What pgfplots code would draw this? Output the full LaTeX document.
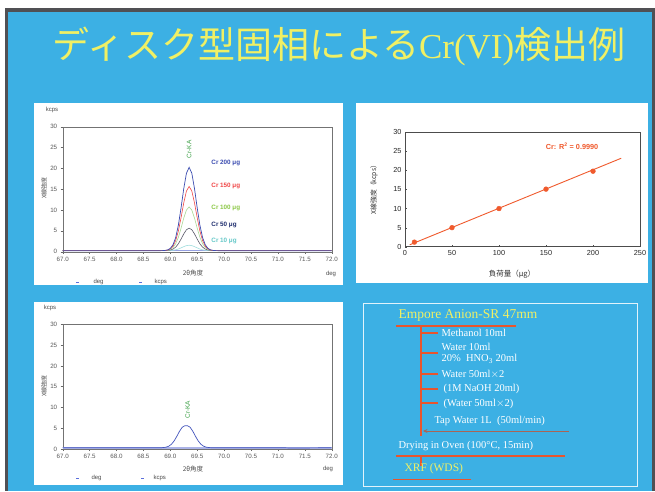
\documentclass[border=0pt]{standalone}
\usepackage{fontspec}
\setmainfont{Liberation Serif}
\setsansfont{Liberation Sans}
\newfontfamily\cjk{Noto Sans CJK JP}
\usepackage{pgfplots}
\pgfplotsset{compat=1.18}
\usepackage{pgfplotstable}
\usetikzlibrary{arrows.meta}

\definecolor{slideblue}{RGB}{60,176,228}
\definecolor{titleyellow}{RGB}{240,240,100}
\definecolor{frameg}{RGB}{80,80,84}
\definecolor{c200}{RGB}{58,75,176}
\definecolor{c150}{RGB}{240,70,70}
\definecolor{c100}{RGB}{170,216,150}
\definecolor{c50}{RGB}{90,90,105}
\definecolor{c10}{RGB}{160,222,222}
\definecolor{l100}{RGB}{140,200,70}
\definecolor{l50}{RGB}{30,45,110}
\definecolor{l10}{RGB}{100,200,200}
\definecolor{base}{RGB}{150,160,225}
\definecolor{kagreen}{RGB}{60,160,70}
\definecolor{fitred}{RGB}{240,90,45}
\definecolor{flowred}{RGB}{232,85,45}
\definecolor{arrowc}{RGB}{170,100,85}
\definecolor{legblue}{RGB}{90,110,220}

\pgfplotstableread{
x      a      b      c      d     e
67.00  0.25   0.25   0.25   0.25  0.25
68.80  0.25   0.25   0.25   0.25  0.25
68.85  0.26   0.26   0.26   0.25  0.25
68.90  0.30   0.29   0.28   0.26  0.25
68.95  0.43   0.39   0.34   0.30  0.26
69.00  0.79   0.67   0.53   0.40  0.29
69.05  1.65   1.33   0.99   0.63  0.34
69.10  3.39   2.67   1.90   1.10  0.45
69.15  6.37   4.96   3.46   1.90  0.65
69.20  10.53  8.17   5.65   3.03  0.92
69.25  15.13  11.71  8.06   4.27  1.22
69.30  18.83  14.56  10.00  5.27  1.46
69.35  20.25  15.65  10.75  5.65  1.55
69.40  18.83  14.56  10.00  5.27  1.46
69.45  15.13  11.71  8.06   4.27  1.22
69.50  10.53  8.17   5.65   3.03  0.92
69.55  6.37   4.96   3.46   1.90  0.65
69.60  3.39   2.67   1.90   1.10  0.45
69.65  1.65   1.33   0.99   0.63  0.34
69.70  0.79   0.67   0.53   0.40  0.29
69.75  0.43   0.39   0.34   0.30  0.26
69.80  0.30   0.29   0.28   0.26  0.25
69.85  0.26   0.26   0.26   0.25  0.25
69.90  0.25   0.25   0.25   0.25  0.25
72.00  0.25   0.25   0.25   0.25  0.25
}\spectraA

\pgfplotstableread{
x      y
67.00  0.30
68.77  0.30
68.82  0.31
68.87  0.35
68.92  0.44
68.97  0.67
69.02  1.13
69.07  1.92
69.12  3.02
69.17  4.24
69.22  5.22
69.27  5.60
69.32  5.60
69.37  5.22
69.42  4.24
69.47  3.02
69.52  1.92
69.57  1.13
69.62  0.67
69.67  0.44
69.72  0.35
69.77  0.31
69.82  0.30
71.10  0.30
71.30  0.22
71.50  0.26
72.00  0.30
}\spectraB

\pgfplotstableread{
x    y
10   1.2
50   5.0
100  10.0
150  15.1
200  19.8
}\calib

\pgfplotsset{
  spec/.style={
    scale only axis, width=269pt, height=125pt,
    xmin=67, xmax=72, ymin=0, ymax=30,
    xtick={67,67.5,68,68.5,69,69.5,70,70.5,71,71.5,72},
    ytick={0,5,10,15,20,25,30},
    /pgf/number format/assume math mode=true,
    tick label style={font=\fontsize{6.2}{7}\selectfont\sffamily, text=black!65},
    xticklabel style={/pgf/number format/.cd, fixed, fixed zerofill, precision=1},
    axis line style={black!55, line width=0.4pt},
    tick style={black!60, line width=0.4pt},
    tick align=outside, xtick pos=bottom, ytick pos=left,
    major tick length=2pt,
  }
}

\begin{document}
\begin{tikzpicture}[x=1pt,y=1pt]
% page background
\fill[white] (0,0) rectangle (655,-491);
\fill[frameg] (5,-8) rectangle (655,-491);
\fill[slideblue] (8,-12) rectangle (652,-491);

% title
\node[text=titleyellow, anchor=center] at (339,-46)
  {\fontsize{37}{38}\selectfont\cjk ディスク型固相による{\rmfamily\fontsize{35}{36}\selectfont Cr(VI)}検出例};

% white panels
\fill[white] (34,-103) rectangle (343,-285);
\fill[white] (356,-103) rectangle (648,-283);
\fill[white] (34,-302) rectangle (343,-485);

% ---------- panel 1 ----------
\begin{axis}[spec, at={(62.7pt,-251.7pt)}, anchor=south west]
  \addplot[base, line width=1pt] coordinates {(67,0.25) (72,0.25)};
  \addplot[c10, line width=0.6pt] table[x=x, y=e] {\spectraA};
  \addplot[c50, line width=0.6pt] table[x=x, y=d] {\spectraA};
  \addplot[c100, line width=0.6pt] table[x=x, y=c] {\spectraA};
  \addplot[c150, line width=0.6pt] table[x=x, y=b] {\spectraA};
  \addplot[c200, line width=0.7pt] table[x=x, y=a] {\spectraA};
  \node[rotate=90, text=kagreen, font=\fontsize{6.5}{7}\selectfont\sffamily] at (axis cs:69.35,24.6) {Cr-KA};
  \begin{scope}[font=\fontsize{6.3}{7}\selectfont\sffamily\bfseries]
  \node[anchor=west, text=c200] at (axis cs:69.7,21.2) {Cr 200 μg};
  \node[anchor=west, text=c150] at (axis cs:69.7,15.8) {Cr 150 μg};
  \node[anchor=west, text=l100] at (axis cs:69.7,10.6) {Cr 100 μg};
  \node[anchor=west, text=l50] at (axis cs:69.7,6.3) {Cr 50 μg};
  \node[anchor=west, text=l10] at (axis cs:69.7,2.6) {Cr 10 μg};
  \end{scope}
\end{axis}
\begin{scope}[text=black!70]
\node[font=\fontsize{6}{7}\selectfont\sffamily] at (52,-110) {kcps};
\node[rotate=90, font=\fontsize{6}{7}\selectfont\cjk] at (44,-188) {X線強度};
\node[font=\fontsize{6.5}{7}\selectfont\cjk] at (193,-273) {2θ角度};
\node[font=\fontsize{6}{7}\selectfont\sffamily] at (331,-274) {deg};
\draw[legblue, line width=0.8pt] (76,-282) -- (79,-282);
\node[font=\fontsize{6}{7}\selectfont\sffamily, anchor=west] at (90,-282) {deg};
\draw[legblue, line width=0.8pt] (139,-282) -- (142,-282);
\node[font=\fontsize{6}{7}\selectfont\sffamily, anchor=west] at (151,-282) {kcps};
\end{scope}

% ---------- panel 3 ----------
\begin{axis}[spec, height=124.7pt, at={(62.7pt,-449pt)}, anchor=south west]
  \addplot[base!80, line width=1.2pt] coordinates {(67,0.25) (72,0.25)};
  \addplot[c200!70!legblue, line width=0.7pt] table[x=x, y=y] {\spectraB};
  \node[rotate=90, text=kagreen, font=\fontsize{6.5}{7}\selectfont\sffamily] at (axis cs:69.32,9.5) {Cr-KA};
\end{axis}
\begin{scope}[text=black!70]
\node[font=\fontsize{6}{7}\selectfont\sffamily] at (50,-308) {kcps};
\node[rotate=90, font=\fontsize{6}{7}\selectfont\cjk] at (44,-386) {X線強度};
\node[font=\fontsize{6.5}{7}\selectfont\cjk] at (193,-469) {2θ角度};
\node[font=\fontsize{6}{7}\selectfont\sffamily] at (328,-469) {deg};
\draw[legblue, line width=0.8pt] (76,-478) -- (79,-478);
\node[font=\fontsize{6}{7}\selectfont\sffamily, anchor=west] at (88,-478) {deg};
\draw[legblue, line width=0.8pt] (141,-478) -- (144,-478);
\node[font=\fontsize{6}{7}\selectfont\sffamily, anchor=west] at (150,-478) {kcps};
\end{scope}

% ---------- panel 2 ----------
\begin{axis}[scale only axis, width=235pt, height=114.4pt,
    at={(405pt,-246.7pt)}, anchor=south west,
    xmin=0, xmax=250, ymin=0, ymax=30,
    xtick={0,50,100,150,200,250}, ytick={0,5,10,15,20,25,30},
    /pgf/number format/assume math mode=true,
    tick label style={font=\fontsize{7.3}{8}\selectfont\sffamily, text=black!85},
    axis line style={black!70, line width=0.5pt},
    tick style={black!70}, tick align=inside, major tick length=2pt,
    xtick pos=bottom, ytick pos=left,
  ]
  \addplot[fitred, line width=0.9pt] coordinates {(5,0.5) (230,23.2)};
  \addplot[only marks, mark=*, mark size=2.4pt, fitred] table[x=x, y=y] {\calib};
  \node[anchor=west, text=fitred, font=\fontsize{7.3}{8}\selectfont\sffamily\bfseries] at (axis cs:146,26.4) {Cr: R\textsuperscript{2} = 0.9990};
\end{axis}
\node[font=\fontsize{7.5}{8}\selectfont\cjk, text=black!80] at (512,-274) {負荷量（μg）};
\node[rotate=90, font=\fontsize{6.8}{7}\selectfont\cjk, text=black!80] at (374,-188) {X線強度（kcps）};

% ---------- panel 4 ----------
\draw[white!85!slideblue, line width=1pt] (363,-303) rectangle (637,-486);
\node[anchor=west, text=titleyellow, font=\fontsize{13.5}{14}\selectfont\rmfamily] at (395,-315) {Empore Anion-SR 47mm};
\draw[flowred, line width=2.4pt] (396,-326) -- (516,-326);
\draw[flowred, line width=2.4pt] (421,-326) -- (421,-436);
\foreach \yy in {333,353,374,389,403} {
  \draw[flowred, line width=1.2pt] (421,-\yy) -- (438,-\yy);
}
\begin{scope}[text=white, font=\fontsize{10.5}{11}\selectfont\rmfamily]
\node[anchor=west] at (438,-333) {Methanol 10ml};
\node[anchor=west] at (438,-347) {Water 10ml};
\node[anchor=west] at (438,-359) {20\%\ \ HNO\textsubscript{3} 20ml};
\node[anchor=west] at (438,-374) {Water 50ml$\times$2};
\node[anchor=west] at (440,-389) {(1M NaOH 20ml)};
\node[anchor=west] at (440,-404) {(Water 50ml$\times$2)};
\node[anchor=west] at (431,-421) {Tap Water 1L\ \ (50ml/min)};
\node[anchor=west] at (395,-446) {Drying in Oven (100°C, 15min)};
\end{scope}
\draw[arrowc, line width=1pt, -{Stealth[length=4.5pt,width=4pt]}] (569,-431) -- (423,-431);
\draw[flowred, line width=2.4pt] (396,-456) -- (565,-456);
\draw[flowred, line width=2pt] (421,-456) -- (421,-466);
\node[anchor=west, text=titleyellow, font=\fontsize{11.5}{12}\selectfont\rmfamily] at (401,-469) {XRF (WDS)};
\draw[flowred, line width=0.8pt] (393,-479) -- (471,-479);

\useasboundingbox (0,0) rectangle (655,-491);
\end{tikzpicture}
\end{document}
